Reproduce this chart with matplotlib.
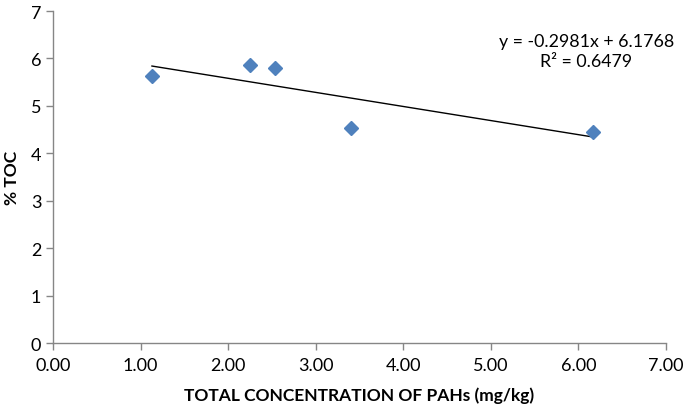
import numpy as np
import matplotlib
matplotlib.use("Agg")
import matplotlib.pyplot as plt
from matplotlib.ticker import FormatStrFormatter

pah_total = [1.13, 2.25, 2.53, 3.40, 6.17]
toc_pct = [5.63, 5.87, 5.80, 4.54, 4.44]
x_ticks = [0, 1, 2, 3, 4, 5, 6, 7]
y_ticks = [0, 1, 2, 3, 4, 5, 6, 7]
eq_text = "y = -0.2981x + 6.1768\nR² = 0.6479"

plt.rcParams['font.family'] = ['Lato', 'DejaVu Sans']
fig = plt.figure(figsize=(6.85, 4.14), dpi=100)
ax = fig.add_axes([0.0774, 0.169, 0.8946, 0.802])

x = np.array(pah_total)
y = np.array(toc_pct)
m, b = np.polyfit(x, y, 1)
xl = np.array([x.min(), x.max()])
ax.plot(xl, m * xl + b, color='black', lw=1.0, zorder=2)
ax.plot(x, y, linestyle='none', marker='D', markersize=7.5, color='#4F81BD', zorder=3)

ax.set_xlim(0, 7)
ax.set_ylim(0, 7)
ax.set_xticks(x_ticks)
ax.set_yticks(y_ticks)
ax.xaxis.set_major_formatter(FormatStrFormatter('%.2f'))
for s in ['top', 'right']:
    ax.spines[s].set_visible(False)
for s in ['left', 'bottom']:
    ax.spines[s].set_color('#868686')
    ax.spines[s].set_linewidth(1.0)
ax.tick_params(axis='both', colors='#868686', labelcolor='black', labelsize=13, length=5, width=1.0, direction='out')
ax.tick_params(axis='x', pad=5)
ax.set_xlabel('TOTAL CONCENTRATION OF PAHs (mg/kg)', fontsize=12.5, fontweight='bold', labelpad=10)
ax.set_ylabel('% TOC', fontsize=12.5, fontweight='bold', labelpad=8)

ax.text(6.09, 6.16, eq_text, ha='center', va='center', fontsize=12.8, linespacing=1.3)

fig.savefig('out.png', dpi=100)
